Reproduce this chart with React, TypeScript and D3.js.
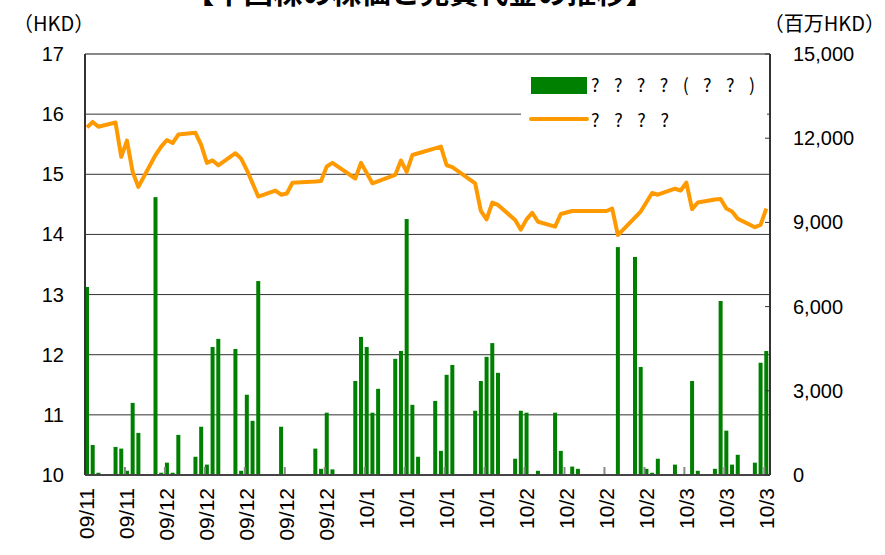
import React from 'react';
import * as d3 from 'd3';

// 売買代金（百万HKD）
const volumeDates = [
  '2009-11-18', '2009-11-19', '2009-11-20', '2009-11-23', '2009-11-24', '2009-11-25', '2009-11-26', '2009-11-27',
  '2009-11-30', '2009-12-01', '2009-12-02', '2009-12-03', '2009-12-04', '2009-12-07', '2009-12-08', '2009-12-09',
  '2009-12-10', '2009-12-11', '2009-12-14', '2009-12-15', '2009-12-16', '2009-12-17', '2009-12-18', '2009-12-22',
  '2009-12-28', '2009-12-29', '2009-12-30', '2009-12-31', '2010-01-04', '2010-01-05', '2010-01-06', '2010-01-07',
  '2010-01-08', '2010-01-11', '2010-01-12', '2010-01-13', '2010-01-14', '2010-01-15', '2010-01-18', '2010-01-19',
  '2010-01-20', '2010-01-21', '2010-01-25', '2010-01-26', '2010-01-27', '2010-01-28', '2010-01-29', '2010-02-01',
  '2010-02-02', '2010-02-03', '2010-02-05', '2010-02-08', '2010-02-09', '2010-02-11', '2010-02-12', '2010-02-19',
  '2010-02-22', '2010-02-23', '2010-02-24', '2010-02-25', '2010-02-26', '2010-03-01', '2010-03-04', '2010-03-05',
  '2010-03-08', '2010-03-09', '2010-03-10', '2010-03-11', '2010-03-12', '2010-03-15', '2010-03-16', '2010-03-17',
];
const volumes = [
  6700, 1070, 80, 1000, 940, 150, 2570, 1500,
  9900, 80, 440, 80, 1430, 650, 1720, 370,
  4560, 4850, 4490, 150, 2860, 1930, 6910, 1720,
  940, 220, 2220, 200, 3350, 4920, 4560, 2220,
  3070, 4140, 4420, 9120, 2500, 650, 2640, 860,
  3570, 3920, 2290, 3350, 4210, 4700, 3640, 580,
  2290, 2220, 150, 2220, 860, 300, 220, 8120,
  7770, 3850, 220, 80, 580, 370, 3350, 150,
  220, 6200, 1580, 370, 720, 440, 4000, 4420,
];

// 株価（HKD）
const priceDates = [
  '2009-11-18', '2009-11-19', '2009-11-20', '2009-11-23', '2009-11-24', '2009-11-25', '2009-11-26', '2009-11-27',
  '2009-11-30', '2009-12-01', '2009-12-02', '2009-12-03', '2009-12-04', '2009-12-07', '2009-12-08', '2009-12-09',
  '2009-12-10', '2009-12-11', '2009-12-14', '2009-12-15', '2009-12-16', '2009-12-18', '2009-12-21', '2009-12-22',
  '2009-12-23', '2009-12-24', '2009-12-28', '2009-12-29', '2009-12-30', '2009-12-31', '2010-01-04', '2010-01-05',
  '2010-01-07', '2010-01-11', '2010-01-12', '2010-01-13', '2010-01-14', '2010-01-19', '2010-01-20', '2010-01-21',
  '2010-01-25', '2010-01-26', '2010-01-27', '2010-01-28', '2010-01-29', '2010-02-01', '2010-02-02', '2010-02-03',
  '2010-02-04', '2010-02-05', '2010-02-08', '2010-02-09', '2010-02-11', '2010-02-17', '2010-02-18', '2010-02-19',
  '2010-02-23', '2010-02-25', '2010-02-26', '2010-03-01', '2010-03-02', '2010-03-03', '2010-03-04', '2010-03-05',
  '2010-03-08', '2010-03-09', '2010-03-10', '2010-03-11', '2010-03-12', '2010-03-15', '2010-03-16', '2010-03-17',
];
const prices = [
  15.78, 15.87, 15.79, 15.86, 15.29, 15.56, 15.04, 14.79,
  15.32, 15.46, 15.57, 15.52, 15.66, 15.69, 15.49, 15.19,
  15.23, 15.15, 15.35, 15.26, 15.07, 14.63, 14.73, 14.66,
  14.68, 14.86, 14.88, 14.89, 15.13, 15.19, 14.93, 15.19,
  14.85, 14.99, 15.23, 15.04, 15.32, 15.46, 15.15, 15.12,
  14.85, 14.39, 14.25, 14.53, 14.49, 14.24, 14.08, 14.25,
  14.36, 14.21, 14.13, 14.34, 14.39, 14.39, 14.43, 13.99,
  14.38, 14.69, 14.66, 14.76, 14.73, 14.86, 14.42, 14.53,
  14.58, 14.59, 14.43, 14.38, 14.26, 14.12, 14.16, 14.43,
];

const xLabels = [
  '09/11', '09/11', '09/12', '09/12', '09/12', '09/12', '09/12',
  '10/1', '10/1', '10/1', '10/1', '10/2', '10/2', '10/2', '10/2',
  '10/3', '10/3', '10/3',
];
const leftTicks = [10, 11, 12, 13, 14, 15, 16, 17];
const rightTicks = [0, 3000, 6000, 9000, 12000, 15000];

const legendBar = '? ? ? ? ( ? ? )';
const legendLine = '? ? ? ?';
const title = '【中国株の株価と売買代金の推移】';

const W = 885;
const H = 555;
const left = 85;
const right = 770;
const top = 54;
const bottom = 475;

const parse = d3.timeParse('%Y-%m-%d');
const numFont = '"Liberation Sans", Arial, sans-serif';
const jpFont = '"Noto Sans CJK JP", "Noto Sans", sans-serif';

export default function App() {
  const x = d3.scaleTime()
    .domain([parse('2009-11-18')!, parse('2010-03-18')!])
    .range([left, right]);
  const yL = d3.scaleLinear().domain([10, 17]).range([bottom, top]);
  const yR = d3.scaleLinear().domain([0, 15000]).range([bottom, top]);

  const bars = volumeDates.map((d, i) => ({ date: parse(d)!, v: volumes[i] }));
  const pts = priceDates.map((d, i) => ({ date: parse(d)!, p: prices[i] }));
  const weeks = d3.timeWednesday.range(parse('2009-11-18')!, parse('2010-03-18')!);

  const line = d3.line<{ date: Date; p: number }>()
    .x(d => x(d.date) + 2)
    .y(d => yL(d.p));

  const barW = 4;

  return (
    <svg width={W} height={H} style={{ position: 'absolute', left: 0, top: 0, background: '#fff' }}>
      {/* title, cut at top edge like the source */}
      <text x={420} y={4} textAnchor="middle" fontFamily={jpFont} fontSize={28} fontWeight="bold"
        textLength={470} lengthAdjust="spacingAndGlyphs">{title}</text>

      <text x={13} y={31} fontFamily={jpFont} fontSize={20}>（HKD）</text>
      <text x={885} y={31} textAnchor="end" fontFamily={jpFont} fontSize={20}>（百万HKD）</text>

      {/* grid */}
      {leftTicks.slice(1, -1).map(t => (
        <line key={t} x1={left} x2={right} y1={yL(t)} y2={yL(t)} stroke="#333" strokeWidth={1} />
      ))}

      {/* bars */}
      {bars.map((b, i) => (
        <rect key={i} x={x(b.date)} y={yR(b.v)} width={barW} height={bottom - yR(b.v)} fill="#008000" />
      ))}

      {/* weekly ticks */}
      {weeks.map((w, i) => (
        <line key={i} x1={x(w)} x2={x(w)} y1={bottom} y2={bottom - 8} stroke="#888" strokeWidth={2} />
      ))}

      {/* price line */}
      <path d={line(pts) || ''} fill="none" stroke="#FF9900" strokeWidth={4} strokeLinejoin="round" />

      {/* frame */}
      <line x1={left} x2={right} y1={top} y2={top} stroke="#888" strokeWidth={2} />
      <line x1={left} x2={left} y1={top} y2={bottom} stroke="#333" strokeWidth={2} />
      <line x1={right} x2={right} y1={top} y2={bottom} stroke="#333" strokeWidth={2} />
      <line x1={left} x2={right} y1={bottom} y2={bottom} stroke="#444" strokeWidth={2} />

      {/* right ticks */}
      {rightTicks.map(t => (
        <line key={t} x1={right - 5} x2={right} y1={yR(t)} y2={yR(t)} stroke="#333" strokeWidth={1} />
      ))}

      {/* legend */}
      <rect x={521} y={65} width={246} height={72} fill="#fff" />
      <rect x={531} y={77} width={56} height={17} fill="#008000" />
      <text x={591} y={92} fontFamily={jpFont} fontSize={18} textLength={164} lengthAdjust="spacing">{legendBar}</text>
      <line x1={531} x2={587} y1={119} y2={119} stroke="#FF9900" strokeWidth={4} strokeLinecap="round" />
      <text x={591} y={127} fontFamily={jpFont} fontSize={18} textLength={78} lengthAdjust="spacing">{legendLine}</text>

      {/* left axis labels */}
      {leftTicks.map(t => (
        <text key={t} x={64} y={yL(t)} dy="0.35em" textAnchor="end" fontFamily={numFont} fontSize={20}>{t}</text>
      ))}

      {/* right axis labels */}
      {rightTicks.map(t => (
        <text key={t} x={793} y={yR(t)} dy="0.35em" fontFamily={numFont} fontSize={20}>{d3.format(',')(t)}</text>
      ))}

      {/* x labels */}
      {weeks.map((w, i) => (
        <text key={i} transform={`translate(${x(w) + 2},488) rotate(-90)`} textAnchor="end" dy="0.35em"
          fontFamily={numFont} fontSize={21}>{xLabels[i]}</text>
      ))}
    </svg>
  );
}
